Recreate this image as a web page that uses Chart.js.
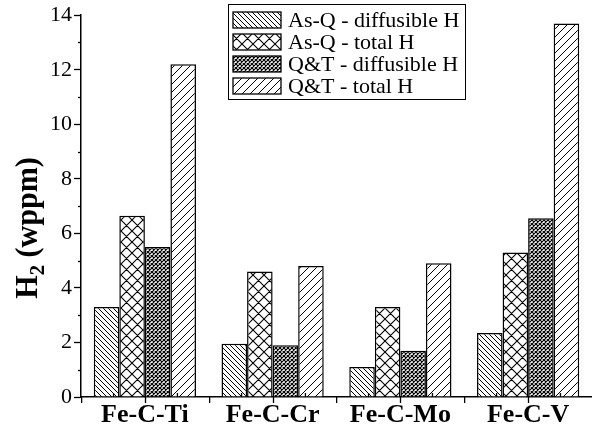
<!DOCTYPE html>
<html>
<head>
<meta charset="utf-8">
<script src="https://cdn.jsdelivr.net/npm/chart.js@4"></script>
<style>
  body { margin: 0; background: #fff; }
</style>
</head>
<body>
<canvas id="canvas" width="592" height="430"></canvas>
<script>
const categories = ['Fe-C-Ti', 'Fe-C-Cr', 'Fe-C-Mo', 'Fe-C-V']
const seriesLabels = ['As-Q - diffusible H', 'As-Q - total H', 'Q&T - diffusible H', 'Q&T - total H']
const asqDiffusible = [3.3, 1.95, 1.1, 2.35]
const asqTotal = [6.65, 4.6, 3.3, 5.3]
const qtDiffusible = [5.5, 1.9, 1.7, 6.55]
const qtTotal = [12.2, 4.8, 4.9, 13.7]
const yMax = 14

const serif = "'Liberation Serif', 'Times New Roman', serif"

// hatch fills, like the old origin plots
function hatch(kind, n, lw) {
    const c = document.createElement('canvas')
    c.width = n; c.height = n
    const g = c.getContext('2d')
    g.fillStyle = '#fff'
    g.fillRect(0, 0, n, n)
    g.strokeStyle = '#000'
    g.lineWidth = lw
    g.beginPath()
    for (let k = -1; k <= 1; k++) {
        if (kind == 'back' || kind == 'cross') {
            g.moveTo(k * n, 0); g.lineTo(k * n + n, n)
        }
        if (kind == 'fwd' || kind == 'cross') {
            g.moveTo(k * n, n); g.lineTo(k * n + n, 0)
        }
    }
    g.stroke()
    return g.createPattern(c, 'repeat')
}

const fills = [hatch('back', 5, 1), hatch('cross', 11, 1.1), hatch('cross', 4, 1.2), hatch('fwd', 8, 1)]
const values = [asqDiffusible, asqTotal, qtDiffusible, qtTotal]

const data = {
    labels: categories,
    datasets: seriesLabels.map((lbl, i) => ({
        label: lbl,
        data: values[i],
        backgroundColor: fills[i],
        borderColor: '#000',
        borderWidth: 1.5,
        categoryPercentage: 0.8,
        barPercentage: 1.0,
    })),
}

function line(ctx, x1, y1, x2, y2) {
    ctx.beginPath(); ctx.moveTo(x1, y1); ctx.lineTo(x2, y2); ctx.stroke()
}

const extras = {
    id: 'extras',
    afterDraw(chart) {
        const ctx = chart.ctx
        const area = chart.chartArea
        const x = chart.scales.x, y = chart.scales.y
        ctx.save()
        ctx.strokeStyle = '#000'
        ctx.lineWidth = 1.3

        // minor y ticks
        for (let v = 1; v < yMax; v += 2) {
            const py = Math.round(y.getPixelForValue(v)) + 0.5
            line(ctx, area.left - 3, py, area.left, py)
        }
        // x ticks: centres and group edges down, quarters up
        const step = x.getPixelForValue(1) - x.getPixelForValue(0)
        categories.forEach((c, i) => {
            const cx = Math.round(x.getPixelForValue(i)) + 0.5
            line(ctx, cx, area.bottom, cx, area.bottom + 6)
            line(ctx, cx - step / 2, area.bottom, cx - step / 2, area.bottom + 6)
            line(ctx, cx - step / 4, area.bottom, cx - step / 4, area.bottom - 4)
            line(ctx, cx + step / 4, area.bottom, cx + step / 4, area.bottom - 4)
        })

        // legend box inside the plot
        const lx = 228, ly = 4, lw = 237, rowH = 22
        ctx.fillStyle = '#fff'
        ctx.fillRect(lx, ly, lw, rowH * 4 + 7)
        ctx.lineWidth = 1
        ctx.strokeRect(lx + 0.5, ly + 0.5, lw, rowH * 4 + 7)
        ctx.font = '22px ' + serif
        ctx.textBaseline = 'middle'
        chart.data.datasets.forEach((ds, i) => {
            const cy = ly + 16 + i * rowH
            ctx.fillStyle = ds.backgroundColor
            ctx.fillRect(lx + 5, cy - 8, 48, 16)
            ctx.lineWidth = 1.3
            ctx.strokeRect(lx + 5, cy - 8, 48, 16)
            ctx.fillStyle = '#000'
            ctx.fillText(ds.label, lx + 60, cy + 1)
        })

        // y title with subscript
        ctx.translate(37, 228)
        ctx.rotate(-Math.PI / 2)
        ctx.scale(0.94, 1)
        ctx.textBaseline = 'alphabetic'
        const big = 'bold 32px ' + serif, small = 'bold 22px ' + serif
        ctx.font = big
        const wH = ctx.measureText('H').width
        const wRest = ctx.measureText(' (wppm)').width
        ctx.font = small
        const w2 = ctx.measureText('2').width
        let px = -(wH + w2 + wRest) / 2
        ctx.fillStyle = '#000'
        ctx.font = big
        ctx.fillText('H', px, 0); px += wH
        ctx.font = small
        ctx.fillText('2', px, 7); px += w2
        ctx.font = big
        ctx.fillText(' (wppm)', px, 0)
        ctx.restore()
    }
}

const config = {
    type: 'bar',
    data: data,
    options: {
        responsive: false,
        animation: false,
        layout: { padding: { top: 12, right: 0, left: 0, bottom: 0 } },
        plugins: { legend: { display: false }, tooltip: { enabled: false } },
        scales: {
            x: {
                grid: { display: false },
                border: { display: true, color: '#000', width: 1.5 },
                ticks: { color: '#000', padding: -5, font: { family: serif, size: 26, weight: 'bold' } },
                afterFit(s) { s.height = 33 },
            },
            y: {
                min: 0,
                max: yMax,
                grid: { drawOnChartArea: false, tickLength: 7, color: '#000', tickWidth: 1.3 },
                border: { display: true, color: '#000', width: 1.5 },
                ticks: { stepSize: 2, color: '#000', padding: 2, font: { family: serif, size: 22 } },
                afterFit(s) { s.width = 81 },
            },
        },
    },
    plugins: [extras],
}

const canvas = document.getElementById('canvas')
const chart = new Chart(canvas, config)
</script>
</body>
</html>
